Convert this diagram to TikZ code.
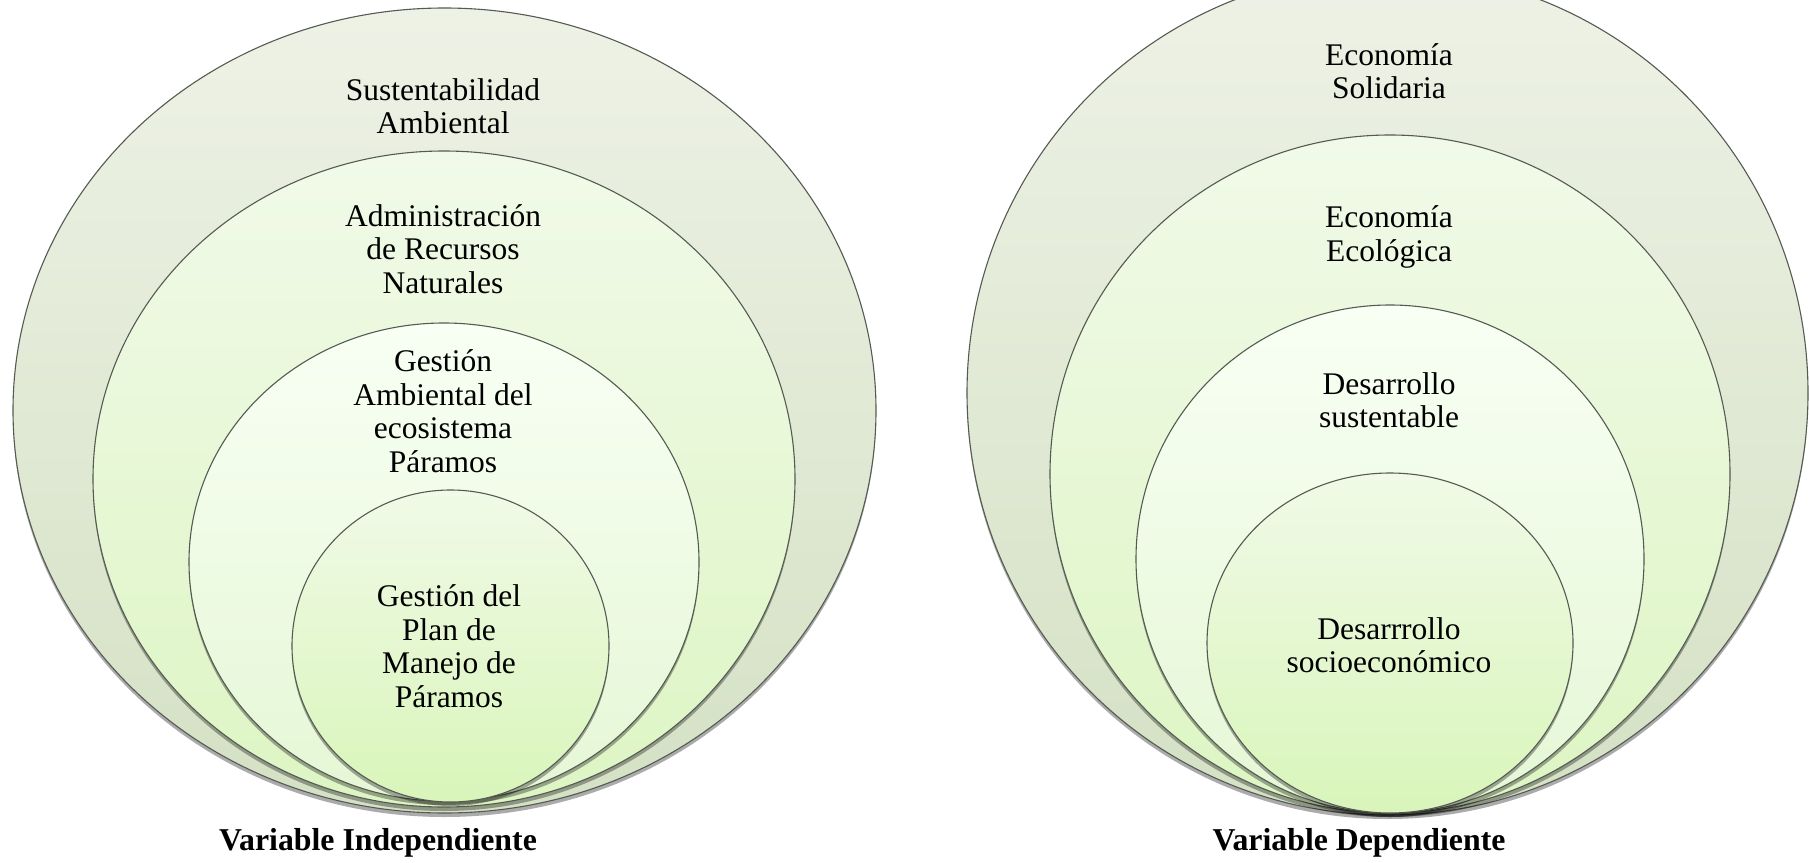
\documentclass[tikz,border=0pt]{standalone}
\usepackage{fontspec}
\setmainfont{Liberation Serif}
\usetikzlibrary{shapes.geometric,shadows}
\definecolor{lineC}{RGB}{85,90,82}
\definecolor{aTop}{RGB}{238,242,230}
\definecolor{aBot}{RGB}{212,225,196}
\definecolor{bTop}{RGB}{241,250,233}
\definecolor{bBot}{RGB}{221,245,195}
\definecolor{cTop}{RGB}{248,255,244}
\definecolor{cBot}{RGB}{229,247,213}
\definecolor{dTop}{RGB}{240,250,231}
\definecolor{dBot}{RGB}{217,245,186}
\begin{document}
\begin{tikzpicture}[x=0.5pt,y=-0.5pt,
  ring/.style={ellipse, draw=lineC, line width=0.55pt, inner sep=0pt, outer sep=0pt,
    drop shadow={shadow xshift=0pt, shadow yshift=-2pt, opacity=0.33, fill=black}},
  levA/.style={ring, top color=aTop, bottom color=aBot},
  levB/.style={ring, top color=bTop, bottom color=bBot},
  levC/.style={ring, top color=cTop, bottom color=cBot},
  levD/.style={ring, top color=dTop, bottom color=dBot},
  lbl/.style={align=center, inner sep=0pt, font=\fontsize{15.75}{16.75}\selectfont},
  captxt/.style={inner sep=0pt, font=\fontsize{15.9}{17}\selectfont\bfseries}]
\useasboundingbox (0,0) rectangle (1809,862);
\clip (0,0) rectangle (1809,862);
% left group
\node[levA, minimum width=431.5pt, minimum height=402.5pt] (L1) at (444.5,410.5) {};
\node[levB, minimum width=351pt, minimum height=328pt] (L2) at (444,479) {};
\node[levC, minimum width=255pt, minimum height=239pt] (L3) at (444,562) {};
\node[levD, minimum width=158.5pt, minimum height=156pt] (L4) at (450.5,646) {};
% right group
\node[levA, minimum width=420.5pt, minimum height=422pt] (R1) at (1387.5,393) {};
\node[levB, minimum width=340pt, minimum height=339pt] (R2) at (1390,474) {};
\node[levC, minimum width=254pt, minimum height=254pt] (R3) at (1390,559) {};
\node[levD, minimum width=183pt, minimum height=170pt] (R4) at (1390,643) {};
% texts left
\node[lbl] (t1) at (443,106) {Sustentabilidad\\Ambiental};
\node[lbl] (t2) at (443,249) {Administración\\de Recursos\\Naturales};
\node[lbl] (t3) at (443,411) {Gestión\\Ambiental del\\ecosistema\\Páramos};
\node[lbl] (t4) at (449,646) {Gestión del\\Plan de\\Manejo de\\Páramos};
% texts right
\node[lbl] (u1) at (1389,71) {Economía\\Solidaria};
\node[lbl] (u2) at (1389,237) {Economía\\Ecológica};
\node[lbl] (u3) at (1389,400) {Desarrollo\\sustentable};
\node[lbl] (u4) at (1389,645) {Desarrrollo\\socioeconómico};
% captions
\node[captxt] (vi) at (378,843) {Variable Independiente};
\node[captxt] (vd) at (1359,843) {Variable Dependiente};
\end{tikzpicture}
\end{document}
